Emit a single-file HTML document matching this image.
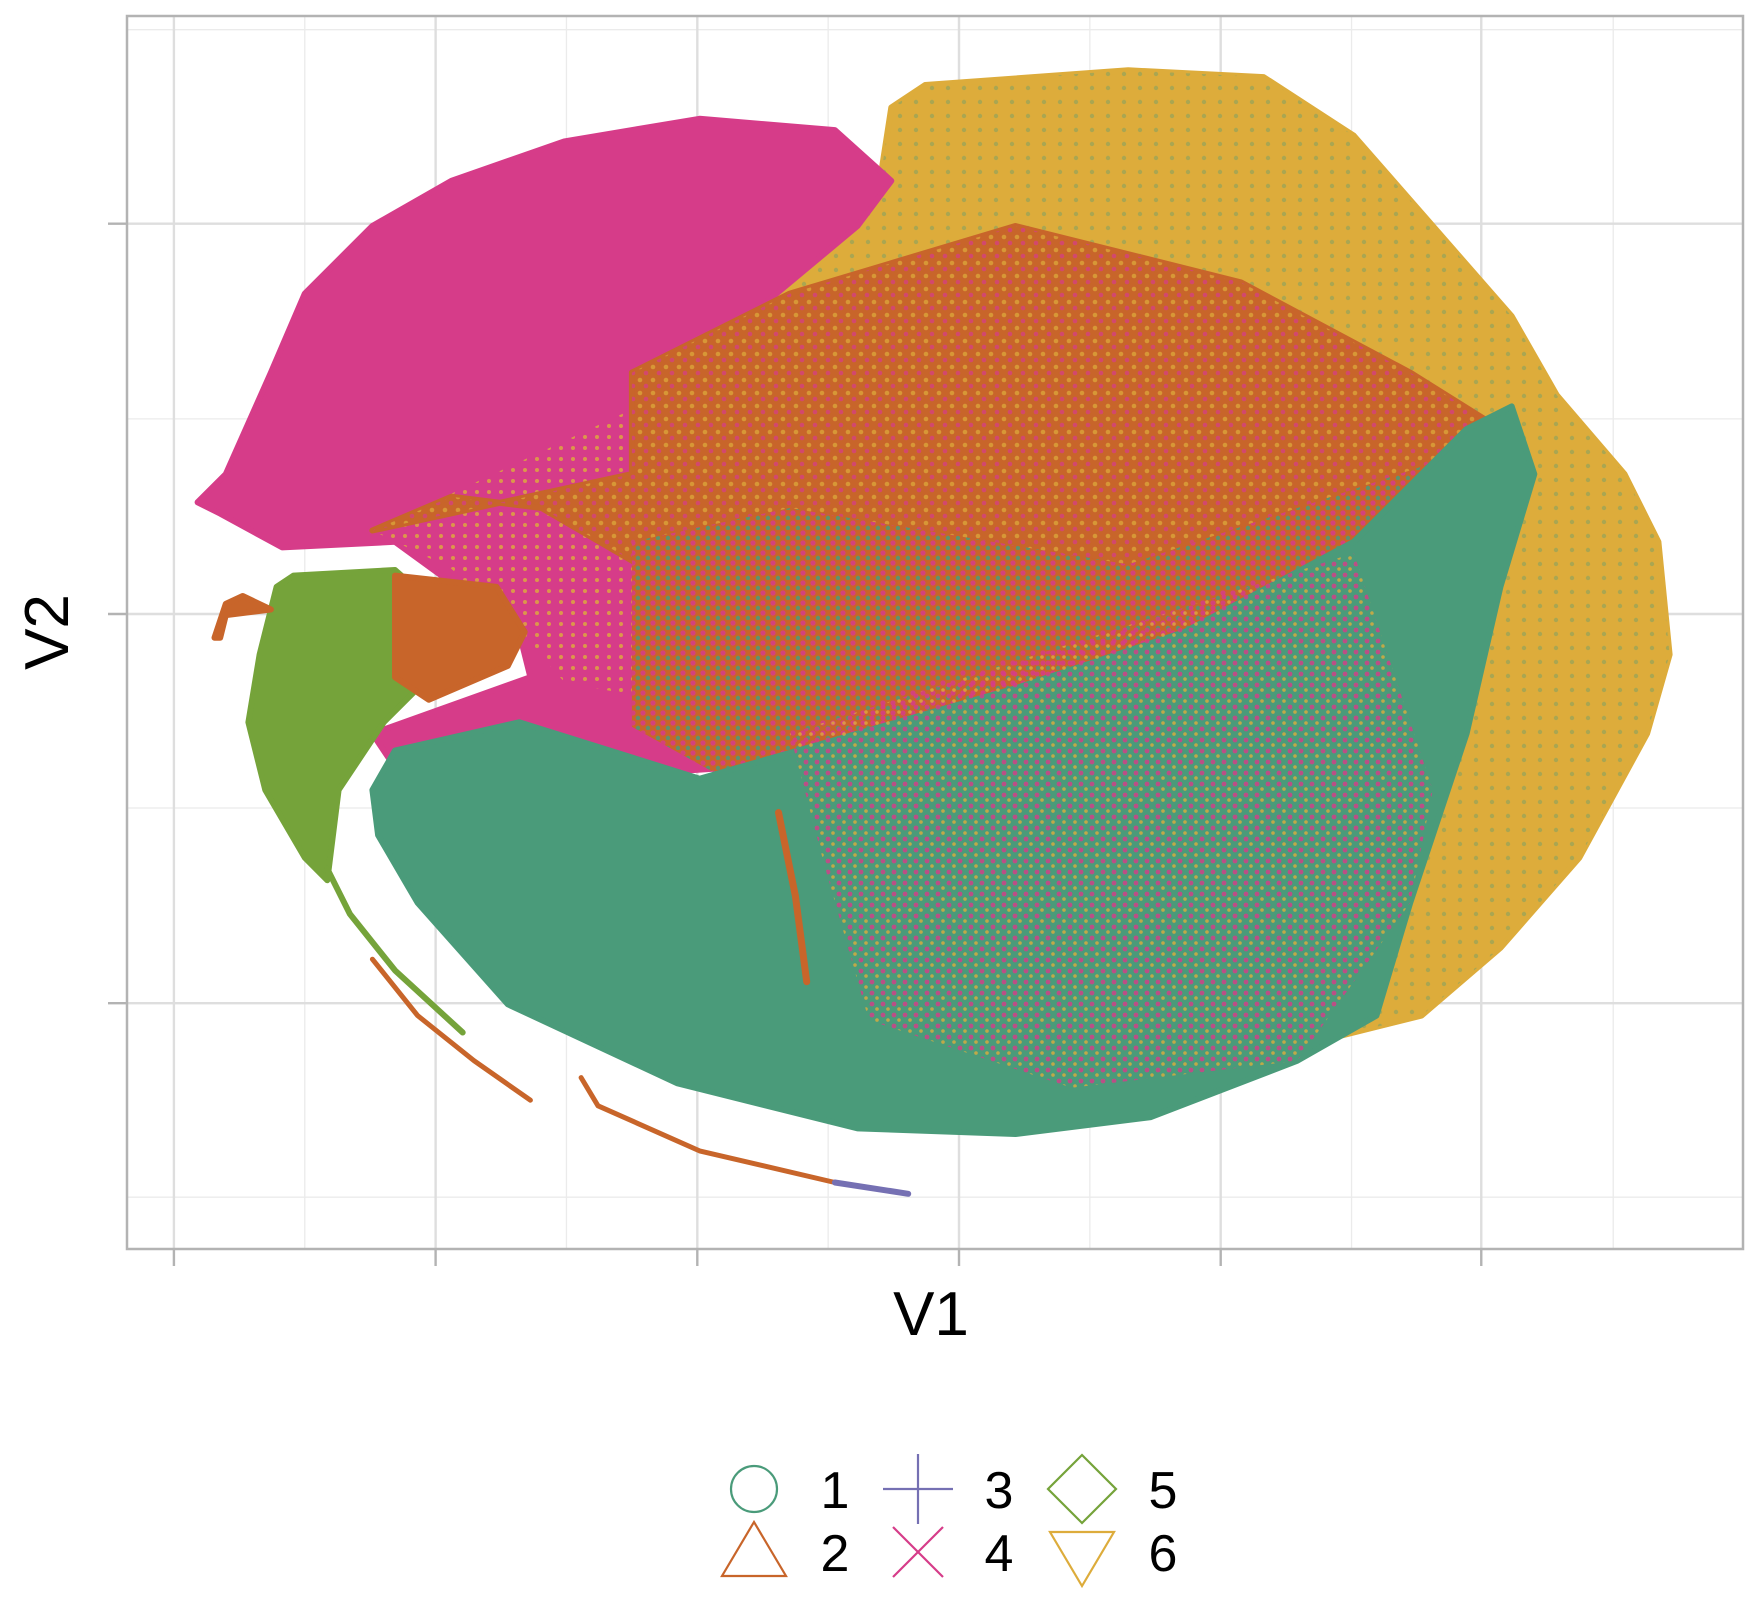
<!DOCTYPE html>
<html><head><meta charset="utf-8"><style>
html,body{margin:0;padding:0;background:#fff}
svg{display:block}
text{font-family:"Liberation Sans",sans-serif}
</style></head><body>
<svg id="chart" width="1760" height="1618" viewBox="0 0 1760 1618" xmlns="http://www.w3.org/2000/svg">
<defs>
<pattern id="pk" width="12" height="11" patternUnits="userSpaceOnUse"><circle cx="3" cy="3" r="2.4" fill="#d63c89"/><circle cx="9" cy="8" r="2" fill="#ddac3b"/></pattern>
<pattern id="tk" width="11" height="11" patternUnits="userSpaceOnUse"><circle cx="3" cy="3" r="2.4" fill="#d63c89"/><circle cx="8" cy="8" r="1.8" fill="#ddac3b"/></pattern>
<pattern id="yk" width="16" height="14" patternUnits="userSpaceOnUse"><circle cx="4" cy="4" r="2.2" fill="#4a9b7a"/><circle cx="11" cy="10" r="2" fill="#ddac3b"/></pattern>
<pattern id="ok" width="13" height="13" patternUnits="userSpaceOnUse"><circle cx="3" cy="3" r="2.3" fill="#ddac3b"/><circle cx="9" cy="9" r="2.3" fill="#d63c89"/></pattern>
<pattern id="mk" width="10" height="10" patternUnits="userSpaceOnUse"><circle cx="3" cy="3" r="2.6" fill="#d63c89"/><circle cx="8" cy="8" r="2.2" fill="#4a9b7a"/></pattern>
<clipPath id="pc"><rect x="127" y="16" width="1616" height="1233"/></clipPath>
</defs>
<rect x="127" y="16" width="1616" height="1233" fill="#fff"/>
<g id="grid"></g>
<g id="marks" clip-path="url(#pc)"></g>
<rect x="127" y="16" width="1616" height="1233" fill="none" stroke="#b3b3b3" stroke-width="2.5"/>
<g id="ticks"></g>
<text x="931" y="1335" font-size="62" text-anchor="middle">V1</text>
<text transform="translate(68,632) rotate(-90)" font-size="62" text-anchor="middle">V2</text>
<g id="legend"></g>
</svg>
<script>
// axis ticks (data units)
const xMajor = [-69.6, -46.4, -23.2, 0, 23.2, 46.3];
const xMinor = [-58, -34.8, -11.6, 11.6, 34.8, 58];
const yMajor = [34.6, 0, -34.5];
const yMinor = [51.8, 17.3, -17.2, -51.7];
// cluster outlines (V1, V2)
const yellowShape = [[-6,44.9],[-3,46.9],[15,48.2],[27,47.6],[35,42.4],[42,34.4],[49,26.4],[53,19.4],[59,12.4],[62,6.4],[63,-3.6],[61,-10.6],[55,-21.6],[48,-29.6],[41,-35.6],[33,-37.6],[25,-39.6],[15,-35.6],[5,-15.6],[-15,4.4],[-29,21.4],[-15,29.4],[-7,38.4]];
const pinkShape = [[-67.5,9.9],[-65,12.4],[-61,21.4],[-58,28.4],[-52,34.4],[-45,38.4],[-35,41.9],[-23,43.9],[-11,42.9],[-6,38.4],[-9,34.4],[-21,24.4],[-29,21.4],[-23,4.4],[-20,-13.6],[-35,-14.6],[-50,-13.6],[-52,-10.6],[-38,-5.6],[-39,-1.6],[-50,6.4],[-60,5.9],[-65.5,8.9]];
const orangeShape = [[-29,21.4],[-15,28.4],[5,34.4],[25,29.4],[40,21.4],[48,16.4],[49,6.4],[35,4.4],[15,1.4],[0,-3.6],[-15,-9.6],[-21,-9.6],[-25,2.4],[-37,9.4],[-45,10.4],[-52,7.4],[-29,12.4]];
const transitionShape = [[-29,6.4],[-15,9.4],[15,4.4],[45,14.4],[48,6.4],[35,-5],[15,-10],[-5,-14],[-20,-15],[-29,-10]];
const tealShape = [[-52,-15.6],[-50,-12.1],[-39,-9.6],[-23,-14.6],[-9,-10.6],[5,-6.6],[20,-1.6],[35,6.4],[45,16.4],[49,18.4],[51,12.4],[48,2.4],[45,-10.6],[40,-25.6],[37,-35.6],[30,-39.6],[17,-44.6],[5,-46.1],[-9,-45.6],[-25,-41.6],[-40,-34.6],[-48,-25.6],[-51.5,-19.6]];
const mixShape = [[-15,-10.6],[35,5.4],[42,-15.6],[40,-25.6],[30,-39.6],[10,-42],[-8,-36],[-12,-22]];
const leftMixShape = [[-52,7.4],[-40,13],[-25,20],[-22,5],[-25,-8],[-35,-6],[-39,-1.6],[-45,4]];
const greenShape = [[-59,3.4],[-50,3.9],[-46,0.4],[-47,-5.6],[-51,-9.6],[-55,-15.6],[-56,-23.6],[-58,-21.6],[-61.5,-15.6],[-63,-9.6],[-62,-3.6],[-60.5,2.4]];
const wedgeShape = [[-50,3.4],[-41,2.4],[-38.5,-1.6],[-40,-4.6],[-47,-7.6],[-50,-5.6]];
const hookShape = [[-66,-2.1],[-65,0.9],[-63.5,1.6],[-61,0.4],[-65,-0.1],[-65.5,-2.1]];
const arcGreen = [[-56,-22.6],[-54,-26.6],[-50,-31.6],[-44,-37.1]];
const arcOrange = [[-52,-30.6],[-48,-35.6],[-43,-39.6],[-38,-43.1]];
const arcBottom = [[-33.5,-41.1],[-32,-43.6],[-23,-47.6],[-11,-50.4]];
const arcPurple = [[-11,-50.4],[-4.5,-51.4]];
const streak = [[-16,-17.6],[-14.5,-25],[-13.5,-32.6]];
// legend
const legendLabels = ["1","2","3","4","5","6"];
const legendColors = ["#4a9b7a","#c8652a","#7570b3","#d63c89","#75a33a","#ddac3b"];

const X0=959, XS=11.28, Y0=614, YS=11.28;
const sx = v => X0 + v*XS;
const sy = v => Y0 - v*YS;
const NS="http://www.w3.org/2000/svg";
function mk(tag, attrs, parent){const e=document.createElementNS(NS,tag);for(const k in attrs)e.setAttribute(k,attrs[k]);parent.appendChild(e);return e;}
const grid=document.getElementById('grid'), ticks=document.getElementById('ticks'), marks=document.getElementById('marks'), legend=document.getElementById('legend');
xMinor.forEach(v=>{const l=mk('line',{x1:sx(v),x2:sx(v),y1:16,y2:1249,stroke:'#ebebeb','stroke-width':1.3},grid);});
yMinor.forEach(v=>{const l=mk('line',{x1:127,x2:1743,y1:sy(v),y2:sy(v),stroke:'#ebebeb','stroke-width':1.3},grid);});
xMajor.forEach(v=>{const l=mk('line',{x1:sx(v),x2:sx(v),y1:16,y2:1249,stroke:'#dedede','stroke-width':2.4},grid);
 const t=mk('line',{x1:sx(v),x2:sx(v),y1:1249,y2:1266,stroke:'#b3b3b3','stroke-width':2.4},ticks);});
yMajor.forEach(v=>{const l=mk('line',{x1:127,x2:1743,y1:sy(v),y2:sy(v),stroke:'#dedede','stroke-width':2.4},grid);
 const t=mk('line',{x1:108,x2:127,y1:sy(v),y2:sy(v),stroke:'#b3b3b3','stroke-width':2.4},ticks);});
const pts = a => a.map(p=>sx(p[0]).toFixed(1)+','+sy(p[1]).toFixed(1)).join(' ');
function poly(a, fill, name, extra){const p=mk('polygon',Object.assign({points:pts(a),fill:fill,stroke:fill,'stroke-width':6,'stroke-linejoin':'round'},extra||{}),marks);return p;}
function line(a, col, w, name){const p=mk('polyline',{points:pts(a),fill:'none',stroke:col,'stroke-width':w,'stroke-linecap':'round','stroke-linejoin':'round'},marks);}
poly(yellowShape,'#ddac3b','cluster-6');
poly(yellowShape,'url(#yk)','cluster-6-speckle',{stroke:'none','opacity':0.35});
poly(pinkShape,'#d63c89','cluster-4');
poly(leftMixShape,'url(#pk)','cluster-mix-left',{stroke:'none',opacity:0.8});
poly(orangeShape,'#c8652a','cluster-2');
poly(orangeShape,'url(#ok)','cluster-2-speckle',{stroke:'none',opacity:0.7});
poly(transitionShape,'#c8652a','transition-zone',{stroke:'none'});
poly(transitionShape,'url(#mk)','transition-speckle',{stroke:'none',opacity:0.85});
poly(tealShape,'#4a9b7a','cluster-1');
poly(mixShape,'url(#tk)','cluster-1-speckle',{stroke:'none',opacity:0.8});
poly(greenShape,'#75a33a','cluster-5');
poly(wedgeShape,'#c8652a','cluster-2-wedge');
poly(hookShape,'#c8652a','cluster-2-hook');
line(arcGreen,'#75a33a',6,'arc-cluster-5');
line(arcOrange,'#c8652a',5,'arc-cluster-2');
line(arcBottom,'#c8652a',5,'arc-bottom-cluster-2');
line(arcPurple,'#7570b3',6,'arc-cluster-3');
line(streak,'#c8652a',7,'streak-cluster-2');
// legend
legendLabels.forEach((lab,i)=>{
 const col=Math.floor(i/2), row=i%2;
 const cx=754+col*164, cy=1489+row*63, c=legendColors[i];
 const g=mk('g',{},legend);
 
 
 const st={fill:'none',stroke:c,'stroke-width':2.2};
 if(i===0) mk('circle',Object.assign({cx:cx,cy:cy,r:23},st),g);
 if(i===1) mk('polygon',Object.assign({points:`${cx},${cy-30} ${cx-32},${cy+24} ${cx+32},${cy+24}`},st),g);
 if(i===2){mk('line',Object.assign({x1:cx-35,x2:cx+35,y1:cy,y2:cy},st),g);mk('line',Object.assign({x1:cx,x2:cx,y1:cy-35,y2:cy+35},st),g);}
 if(i===3){mk('line',Object.assign({x1:cx-25,x2:cx+25,y1:cy-25,y2:cy+25},st),g);mk('line',Object.assign({x1:cx-25,x2:cx+25,y1:cy+25,y2:cy-25},st),g);}
 if(i===4) mk('polygon',Object.assign({points:`${cx},${cy-34} ${cx+34},${cy} ${cx},${cy+34} ${cx-34},${cy}`},st),g);
 if(i===5) mk('polygon',Object.assign({points:`${cx-32},${cy-20} ${cx+32},${cy-20} ${cx},${cy+34}`},st),g);
 const t=mk('text',{x:cx+81,y:cy+19,'font-size':52,'text-anchor':'middle'},g);t.textContent=lab;
});
</script>
</body></html>
